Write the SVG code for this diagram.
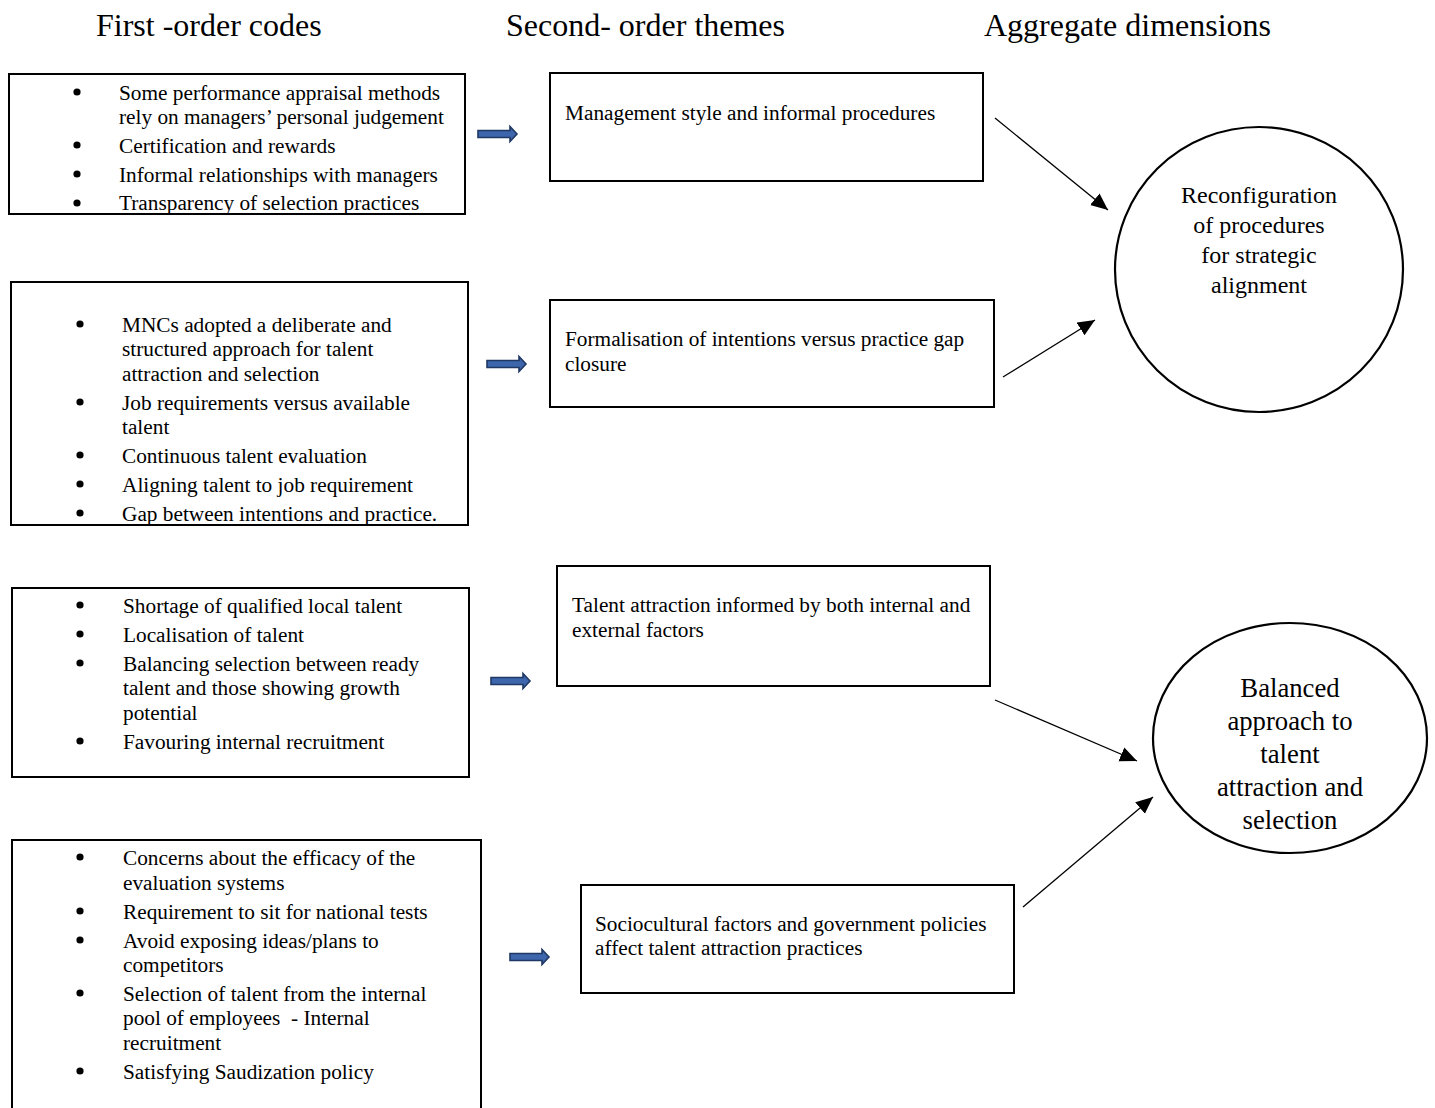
<svg xmlns="http://www.w3.org/2000/svg" width="1435" height="1108" viewBox="0 0 1435 1108">
<style>
text{font-family:"Liberation Serif","Times New Roman",serif;fill:#000}
.h{font-family:"Liberation Serif","Times New Roman",serif;font-size:32px}
.t{font-family:"Liberation Serif","Times New Roman",serif;font-size:21.3px}
.c1{font-family:"Liberation Serif","Times New Roman",serif;font-size:24px;text-anchor:middle}
.c2{font-family:"Liberation Serif","Times New Roman",serif;font-size:26.7px;text-anchor:middle}
.box{fill:#fff;stroke:#000;stroke-width:2}
.circ{fill:#fff;stroke:#000;stroke-width:2.2}
.conn{stroke:#000;stroke-width:1.3;fill:none;marker-end:url(#ah)}
.blt{fill:#000}
.barr{fill:#3d66ad;stroke:#1f3864;stroke-width:1.6}
</style>
<defs>
<marker id="ah" markerUnits="userSpaceOnUse" markerWidth="18" markerHeight="16" refX="17" refY="7.5" orient="auto">
<path d="M0,0 L17,7.5 L0,15 Z" fill="#000"/>
</marker>
<path id="barrow" d="M0,-3.5 H32 V-7.5 L39,0 L32,7.5 V3.5 H0 Z"/>
</defs>
<rect width="1435" height="1108" fill="#fff"/>

<g id="headers">
<text class="h" x="96" y="36">First -order codes</text>
<text class="h" x="506" y="36">Second- order themes</text>
<text class="h" x="984" y="36">Aggregate dimensions</text>
</g>

<g id="codes1">
<rect class="box" x="9" y="74" width="456" height="140"/>
<circle class="blt" cx="77" cy="92" r="3.6"/>
<circle class="blt" cx="77" cy="145" r="3.6"/>
<circle class="blt" cx="77" cy="174" r="3.6"/>
<circle class="blt" cx="77" cy="203" r="3.6"/>
<text class="t" x="119" y="100">Some performance appraisal methods</text>
<text class="t" x="119" y="124">rely on managers’ personal judgement</text>
<text class="t" x="119" y="153">Certification and rewards</text>
<text class="t" x="119" y="182">Informal relationships with managers</text>
<text class="t" x="119" y="210">Transparency of selection practices</text>
</g>

<g id="codes2">
<rect class="box" x="11" y="282" width="457" height="243"/>
<circle class="blt" cx="80" cy="324" r="3.6"/>
<circle class="blt" cx="80" cy="402" r="3.6"/>
<circle class="blt" cx="80" cy="455" r="3.6"/>
<circle class="blt" cx="80" cy="484" r="3.6"/>
<circle class="blt" cx="80" cy="513" r="3.6"/>
<text class="t" x="122" y="332">MNCs adopted a deliberate and</text>
<text class="t" x="122" y="356">structured approach for talent</text>
<text class="t" x="122" y="381">attraction and selection</text>
<text class="t" x="122" y="410">Job requirements versus available</text>
<text class="t" x="122" y="434">talent</text>
<text class="t" x="122" y="463">Continuous talent evaluation</text>
<text class="t" x="122" y="492">Aligning talent to job requirement</text>
<text class="t" x="122" y="521">Gap between intentions and practice.</text>
</g>

<g id="codes3">
<rect class="box" x="12" y="588" width="457" height="189"/>
<circle class="blt" cx="80" cy="605" r="3.6"/>
<circle class="blt" cx="80" cy="634" r="3.6"/>
<circle class="blt" cx="80" cy="663" r="3.6"/>
<circle class="blt" cx="80" cy="741" r="3.6"/>
<text class="t" x="123" y="613">Shortage of qualified local talent</text>
<text class="t" x="123" y="642">Localisation of talent</text>
<text class="t" x="123" y="671">Balancing selection between ready</text>
<text class="t" x="123" y="695">talent and those showing growth</text>
<text class="t" x="123" y="720">potential</text>
<text class="t" x="123" y="749">Favouring internal recruitment</text>
</g>

<g id="codes4">
<rect class="box" x="12" y="840" width="469" height="290"/>
<circle class="blt" cx="80" cy="857" r="3.6"/>
<circle class="blt" cx="80" cy="911" r="3.6"/>
<circle class="blt" cx="80" cy="940" r="3.6"/>
<circle class="blt" cx="80" cy="993" r="3.6"/>
<circle class="blt" cx="80" cy="1071" r="3.6"/>
<text class="t" x="123" y="865">Concerns about the efficacy of the</text>
<text class="t" x="123" y="890">evaluation systems</text>
<text class="t" x="123" y="919">Requirement to sit for national tests</text>
<text class="t" x="123" y="948">Avoid exposing ideas/plans to</text>
<text class="t" x="123" y="972">competitors</text>
<text class="t" x="123" y="1001">Selection of talent from the internal</text>
<text class="t" x="123" y="1025" xml:space="preserve">pool of employees  - Internal</text>
<text class="t" x="123" y="1050">recruitment</text>
<text class="t" x="123" y="1079">Satisfying Saudization policy</text>
</g>

<g id="theme1">
<rect class="box" x="550" y="73" width="433" height="108"/>
<text class="t" x="565" y="120">Management style and informal procedures</text>
</g>
<g id="theme2">
<rect class="box" x="550" y="300" width="444" height="107"/>
<text class="t" x="565" y="346">Formalisation of intentions versus practice gap</text>
<text class="t" x="565" y="371">closure</text>
</g>
<g id="theme3">
<rect class="box" x="557" y="566" width="433" height="120"/>
<text class="t" x="572" y="612">Talent attraction informed by both internal and</text>
<text class="t" x="572" y="637">external factors</text>
</g>
<g id="theme4">
<rect class="box" x="581" y="885" width="433" height="108"/>
<text class="t" x="595" y="931">Sociocultural factors and government policies</text>
<text class="t" x="595" y="955">affect talent attraction practices</text>
</g>

<g id="dim1">
<ellipse class="circ" cx="1259" cy="269.5" rx="144" ry="142.5"/>
<text class="c1" x="1259" y="203">Reconfiguration</text>
<text class="c1" x="1259" y="233">of procedures</text>
<text class="c1" x="1259" y="263">for strategic</text>
<text class="c1" x="1259" y="293">alignment</text>
</g>
<g id="dim2">
<ellipse class="circ" cx="1290" cy="738" rx="137" ry="115"/>
<text class="c2" x="1290" y="697">Balanced</text>
<text class="c2" x="1290" y="730">approach to</text>
<text class="c2" x="1290" y="763">talent</text>
<text class="c2" x="1290" y="796">attraction and</text>
<text class="c2" x="1290" y="829">selection</text>
</g>

<g id="connectors">
<use href="#barrow" class="barr" x="478" y="134"/>
<use href="#barrow" class="barr" x="487" y="364"/>
<use href="#barrow" class="barr" x="491" y="681"/>
<use href="#barrow" class="barr" x="510" y="957"/>
<line class="conn" x1="995" y1="118" x2="1108" y2="210"/>
<line class="conn" x1="1003" y1="377" x2="1095" y2="320"/>
<line class="conn" x1="995" y1="700" x2="1137" y2="761"/>
<line class="conn" x1="1023" y1="907" x2="1153" y2="797"/>
</g>
</svg>
